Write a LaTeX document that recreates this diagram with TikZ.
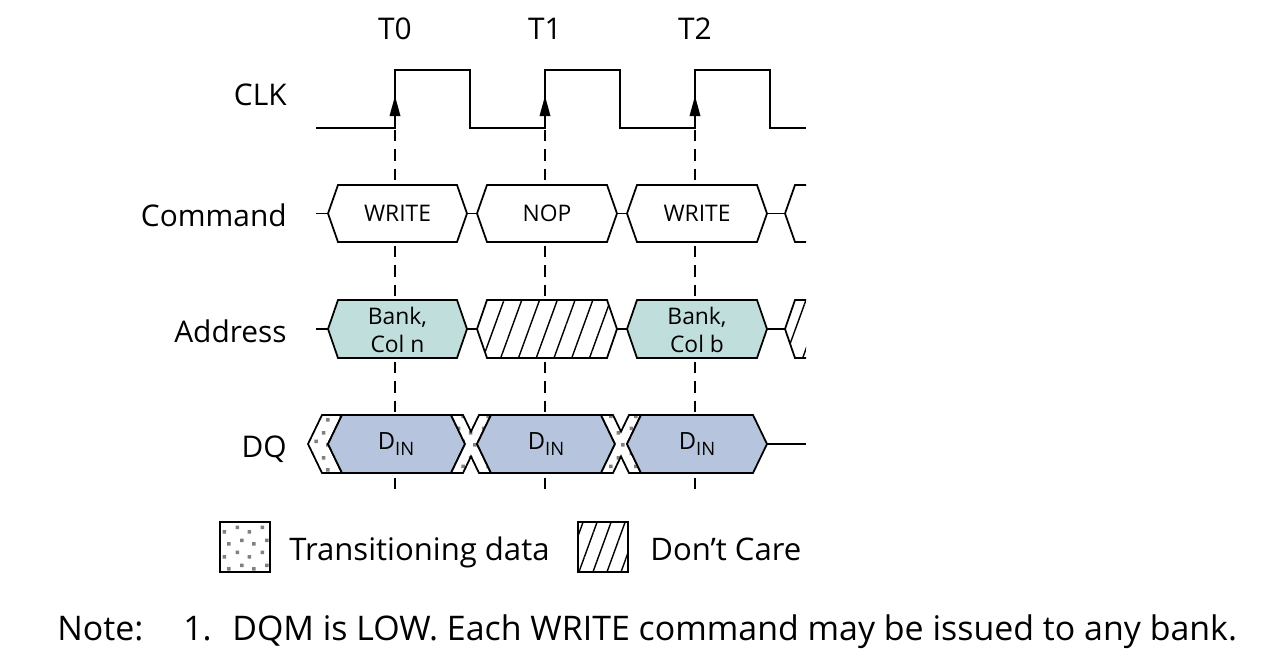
\documentclass[tikz,border=0pt]{standalone}
\usepackage{fontspec}
\setmainfont{Open Sans}
\usepackage{tikz}
\usetikzlibrary{patterns,patterns.meta}

\definecolor{addrfill}{RGB}{192,222,220}
\definecolor{dqfill}{RGB}{183,196,221}

\pgfdeclarepattern{
	name=transdots,
	bottom left={\pgfpointorigin},
	top right={\pgfpoint{14pt}{14pt}},
	tile size={\pgfpoint{14pt}{14pt}},
	code={
		\pgfpathrectangle{\pgfpoint{1pt}{2pt}}{\pgfpoint{2pt}{2pt}}
		\pgfpathrectangle{\pgfpoint{8.5pt}{4.5pt}}{\pgfpoint{2pt}{2pt}}
		\pgfpathrectangle{\pgfpoint{3.5pt}{9.5pt}}{\pgfpoint{2pt}{2pt}}
		\pgfpathrectangle{\pgfpoint{11pt}{11.5pt}}{\pgfpoint{2pt}{2pt}}
		\pgfusepath{fill}
	}
}

\tikzset{
	wave/.style={line width=1.1pt, line join=miter},
	busline/.style={line width=1pt, line join=miter},
	cmdbox/.style={busline, fill=white},
	addrbox/.style={busline, fill=addrfill},
	dqbox/.style={busline, fill=dqfill},
	dontcare/.style={preaction={fill=white}, pattern={Lines[angle=70,distance=#1,line width=0.8pt]}, pattern color=black},
	dontcare/.default=9.5pt,
	transit/.style={preaction={fill=white}, pattern=transdots, pattern color=black!50},
	biglabel/.style={font=\fontsize{17}{20}\selectfont, inner sep=0pt},
	boxtext/.style={font=\fontsize{13}{15.5}\selectfont, align=center, inner sep=0pt},
}

% style, left tip, right tip, centre y, slant, half height
\newcommand{\hexbox}[6]{%
	\draw[#1] (#2,#4) -- ({#2+#5},{#4-#6}) -- ({#3-#5},{#4-#6}) -- (#3,#4) -- ({#3-#5},{#4+#6}) -- ({#2+#5},{#4+#6}) -- cycle;}
% left top corner of a data crossing on the DQ line
\newcommand{\xcross}[1]{%
	\draw[busline, transit] (#1,415) -- ({#1+12},415) -- ({#1+20},431.6) -- ({#1+28},415) -- ({#1+40},415) -- ({#1+26},444) -- ({#1+40},473) -- ({#1+28},473) -- ({#1+20},456.4) -- ({#1+12},473) -- (#1,473) -- ({#1+14},444) -- cycle;}

\begin{document}
\begin{tikzpicture}[x=0.02cm, y=-0.02cm]
				\useasboundingbox (0,0) rectangle (1272,660);

				\node[biglabel, anchor=base east] (clk) at (287,105) {CLK};
				\node[biglabel, anchor=base east] (command) at (287,226) {Command};
				\node[biglabel, anchor=base east] (address) at (287,342) {Address};
				\node[biglabel, anchor=base east] (dq) at (287,457) {DQ};

				\foreach \x/\t in {395/0,545/1,695/2} {
					\node[biglabel, anchor=base] (t\t) at (\x,39) {T\t};
					\coordinate (top\t) at (\x,130);
					\coordinate (bot\t) at (\x,490);
					\draw[line width=0.6pt, dash pattern=on 6.5pt off 4.5pt] (top\t) -- (bot\t);
				}

				\draw[wave] (316,128) -- (395,128) -- (395,70) -- (470,70) -- (470,128) -- (545,128) -- (545,70) -- (620,70) -- (620,128) -- (695,128) -- (695,70) -- (770,70) -- (770,128) -- (806,128);
				\foreach \x in {395,545,695}
					\fill (\x,96) -- ({\x-5.5},116) -- ({\x+5.5},116) -- cycle;

				\draw[busline] (316,213.5) -- (328,213.5) (467,213.5) -- (477,213.5) (617,213.5) -- (627,213.5) (767,213.5) -- (785,213.5);
				\hexbox{cmdbox}{328}{467}{213.5}{10}{28.5}
				\hexbox{cmdbox}{477}{617}{213.5}{10}{28.5}
				\hexbox{cmdbox}{627}{767}{213.5}{10}{28.5}
				\draw[busline] (806,185) -- (795,185) -- (785,213.5) -- (795,242) -- (806,242);
				\node[boxtext] (cmd0) at (397.5,213.5) {WRITE};
				\node[boxtext] (cmd1) at (547,213.5) {NOP};
				\node[boxtext] (cmd2) at (697,213.5) {WRITE};

				\draw[busline] (316,329) -- (328,329) (467,329) -- (477,329) (617,329) -- (627,329) (767,329) -- (785,329);
				\hexbox{addrbox}{328}{467}{329}{10}{29}
				\hexbox{busline,dontcare}{477}{617}{329}{10}{29}
				\hexbox{addrbox}{627}{767}{329}{10}{29}
				\path[dontcare] (806,300) -- (795,300) -- (785,329) -- (795,358) -- (806,358) -- cycle;
				\draw[busline] (806,300) -- (795,300) -- (785,329) -- (795,358) -- (806,358);
				\node[boxtext] (addr0) at (397.5,330) {Bank,\\Col n};
				\node[boxtext] (addr2) at (697,330) {Bank,\\Col b};

				\draw[busline, transit] (322,415) -- (342,415) -- (328,444) -- (342,473) -- (322,473) -- (308,444) -- cycle;
				\hexbox{dqbox}{328}{465}{444}{14}{29}
				\xcross{451}
				\hexbox{dqbox}{477}{615}{444}{14}{29}
				\xcross{601}
				\hexbox{dqbox}{627}{767}{444}{14}{29}
				\draw[busline] (767,444) -- (806,444);
				\foreach \x/\n in {396/0,546/1,697/2}
					\node[boxtext, font=\fontsize{13.5}{16}\selectfont] (din\n) at (\x,444) {D\raisebox{-0.5ex}{\fontsize{10.5}{12}\selectfont IN}};

				\draw[line width=1.1pt, transit] (220,522) rectangle (270,572);
				\node[biglabel, font=\fontsize{17.7}{20}\selectfont, anchor=base west] (transleg) at (289,560) {Transitioning data};
				\draw[line width=1.1pt, dontcare=7.5pt] (578,522) rectangle (628,572);
				\node[biglabel, font=\fontsize{17.7}{20}\selectfont, anchor=base west] (careleg) at (650,560) {Don’t Care};

				\node[biglabel, font=\fontsize{19.3}{22}\selectfont, anchor=base west] (note) at (57,640) {Note:};
				\node[biglabel, font=\fontsize{19.3}{22}\selectfont, anchor=base west] (noteone) at (183,640) {1.};
				\node[biglabel, font=\fontsize{19.3}{22}\selectfont, anchor=base west] (notetext) at (232,640) {DQM is LOW. Each WRITE command may be issued to any bank.};
			\end{tikzpicture}
\end{document}
